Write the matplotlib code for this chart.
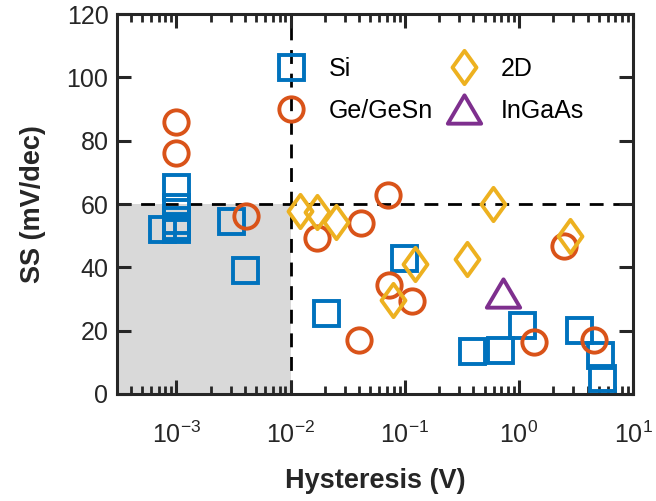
import numpy as np
import matplotlib.pyplot as plt
from matplotlib.path import Path

plt.rcParams['font.family'] = ['Liberation Sans', 'DejaVu Sans']
plt.rcParams['mathtext.fontset'] = 'custom'
plt.rcParams['mathtext.rm'] = 'Liberation Sans'
plt.rcParams['mathtext.it'] = 'Liberation Sans:italic'
plt.rcParams['mathtext.bf'] = 'Liberation Sans:bold'

# データ
si_x = [1e-3, 1e-3, 1e-3, 1e-3, 1e-3, 7.5e-4, 0.0030, 0.0040, 0.0203, 0.099, 0.39, 0.69, 1.06, 3.36, 5.1, 5.4]
si_y = [65.3, 59, 55, 53, 52, 52, 54.7, 39.2, 25.5, 42.8, 13.6, 13.9, 21.9, 20.3, 12.3, 4.9]

ge_x = [1e-3, 1e-3, 0.0041, 0.071, 0.0172, 0.041, 0.0726, 0.115, 0.040, 1.37, 2.48, 4.57]
ge_y = [86, 76, 56.2, 62.9, 49.2, 53.9, 34.4, 29.5, 17.1, 16.5, 46.8, 17.1]

twod_x = [0.012, 0.0172, 0.025, 0.122, 0.079, 0.35, 0.59, 2.8]
twod_y = [57.9, 57.4, 54.2, 41.2, 29.8, 42.6, 60.1, 50]

ingaas_x = [0.73]
ingaas_y = [31.9]

x_min, x_max = 3e-4, 10
ss_limit = 60
hys_limit = 1e-2

c_blue = '#0072BD'
c_orange = '#D95319'
c_yellow = '#EDB120'
c_purple = '#7E2F8E'

diamond = Path([(0, 1), (0.72, 0), (0, -1), (-0.72, 0), (0, 1)],
               [Path.MOVETO, Path.LINETO, Path.LINETO, Path.LINETO, Path.CLOSEPOLY])
triangle = Path([(0, 0.85), (1, -0.85), (-1, -0.85), (0, 0.85)],
                [Path.MOVETO, Path.LINETO, Path.LINETO, Path.CLOSEPOLY])

fig = plt.figure(figsize=(6.56, 5.01), dpi=100)
ax = fig.add_axes([0.178, 0.2136, 0.787, 0.7584])

# 灰色の領域と破線
ax.fill_between([x_min, hys_limit], 0, ss_limit, color='#d9d9d9', lw=0, zorder=0)
ax.axvline(hys_limit, color='k', ls=(0, (5, 3.5)), lw=2.0, zorder=1)
ax.axhline(ss_limit, color='k', ls=(0, (5, 3.5)), lw=2.0, zorder=1)

mew = 2.8
ax.plot(si_x, si_y, ls='none', marker='s', ms=18, mfc='none', mec=c_blue, mew=mew, label='Si', zorder=3)
ax.plot(ge_x, ge_y, ls='none', marker='o', ms=17.5, mfc='none', mec=c_orange, mew=mew, label='Ge/GeSn', zorder=3)
ax.plot(twod_x, twod_y, ls='none', marker=diamond, ms=24, mfc='none', mec=c_yellow, mew=mew, label='2D', zorder=3)
ax.plot(ingaas_x, ingaas_y, ls='none', marker=triangle, ms=24, mfc='none', mec=c_purple, mew=mew, label='InGaAs', zorder=3)

ax.set_xscale('log')
ax.set_xlim(x_min, x_max)
ax.set_ylim(0, 120)
ax.set_yticks(np.arange(0, 121, 20))
ax.set_xticks([1e-3, 1e-2, 1e-1, 1e0, 1e1])
ax.set_xticklabels(['$10^{-3}$', '$10^{-2}$', '$10^{-1}$', '$10^{0}$', '$10^{1}$'])

for s in ax.spines.values():
    s.set_linewidth(2.2)
    s.set_color('#262626')
ax.tick_params(direction='in', which='both', top=True, right=True, colors='#262626', labelsize=18)
ax.tick_params(which='major', length=10, width=2.2)
ax.tick_params(which='minor', length=5.5, width=2.0)
ax.tick_params(axis='x', which='major', pad=20)
ax.tick_params(axis='y', which='major', pad=6)

ax.set_xlabel('Hysteresis (V)', fontsize=19.5, fontweight='bold', color='#262626', labelpad=14)
ax.set_ylabel('SS (mV/dec)', fontsize=19.5, fontweight='bold', color='#262626', labelpad=15)

ax.legend(ncol=2, frameon=False, fontsize=18, loc='upper left', bbox_to_anchor=(0.2703, 0.946),
          handletextpad=1.0, columnspacing=0.72, labelspacing=0.71, handlelength=1.0)

plt.savefig('out.png', dpi=100)
